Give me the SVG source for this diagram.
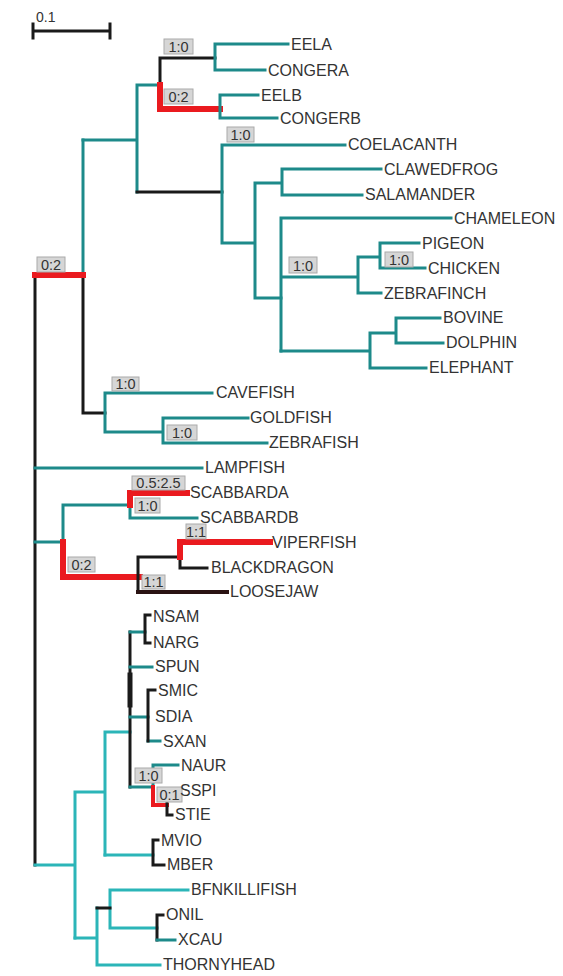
<svg xmlns="http://www.w3.org/2000/svg" width="563" height="976" viewBox="0 0 563 976">
<style>
.t{fill:none;stroke:#1d8a8a;stroke-width:3;stroke-linecap:square}
.c{fill:none;stroke:#2bb5b8;stroke-width:3;stroke-linecap:square}
.k{fill:none;stroke:#1a1a1a;stroke-width:3;stroke-linecap:square}
.r{fill:none;stroke:#ea1a1f;stroke-width:6;stroke-linecap:square}
.lab{font-family:"Liberation Sans",Arial,sans-serif;font-size:16px;fill:#333}
.bx rect{fill:#d6d6d6;stroke:#aaa;stroke-width:1}
.bx text{font-family:"Liberation Sans",Arial,sans-serif;font-size:14.5px;fill:#333;text-anchor:middle}
</style>
<rect width="563" height="976" fill="#fff"/>
<g id="scalebar">
<path class="k" d="M33,31H110M33,24V38M110,24V38"/>
<text x="36" y="22" style="font-family:'Liberation Sans',Arial,sans-serif;font-size:14px;fill:#333">0.1</text>
</g>
<g id="connectors">
<path class="k" d="M35,275V865"/>
<path class="t" d="M83,140V275"/>
<path class="k" d="M83,275V413H105"/>
<path class="r" d="M35,275H83"/>
<path class="t" d="M83,140H137M137,85V192M137,85H160"/>
<path class="k" d="M160,58V85M160,58H215M137,192H222"/>
<path class="t" d="M215,44V70M215,44H288M215,70H265"/>
<path class="r" d="M160,85V109H220"/>
<path class="t" d="M220,95V118M220,95H258M220,118H277"/>
<path class="t" d="M222,145V243M222,145H345M222,243H255M255,183V298H281M255,183H282M282,169V195M282,169H381M282,195H362"/>
<path class="t" d="M281,218V351M281,218H451M281,277H358M358,257V293M358,257H380M380,243V268M380,243H419M380,268H425M358,293H381"/>
<path class="t" d="M281,351H370M370,333V368M370,333H396M396,318V343M396,318H440M396,343H443M370,368H426"/>
<path class="t" d="M105,393V432M105,393H212M105,432H163M163,418V443M163,418H248M163,443H267"/>
<path class="t" d="M35,468H202"/>
<path class="t" d="M35,542H63M63,505V542M63,505H130M130,505V518M130,518H197"/>
<path class="r" d="M63,542V577H140M130,505V493H187"/>
<path class="k" d="M138,557V592M138,557H180M180,557V568H207"/>
<path class="r" d="M180,557V542H270"/>
<path class="k" d="M138,592H227" style="stroke:#2a1212;stroke-width:4"/>
<path class="c" d="M35,865H75M75,792V938M75,792H105M105,732V855M105,732H130"/>
<path class="k" d="M130,632V787"/>
<path class="k" d="M130,675V705" style="stroke-width:5"/>
<path class="t" d="M130,632H145M130,667H152M130,717H148M130,787H153M153,765V787M153,765H178M148,741H160"/>
<path class="k" d="M145,615V643M145,615H150M145,643H150M148,690V741M148,690H155"/>
<path class="r" d="M153,787V805H167" style="stroke-width:4"/>
<path class="k" d="M167,790V815M167,790H176M167,815H172"/>
<path class="c" d="M105,855H153"/>
<path class="k" d="M153,840V865M153,840H158M153,865H164"/>
<path class="c" d="M75,938H97M97,908V965M97,965H160M110,890V928M110,890H188M110,928H157"/>
<path class="k" d="M97,908H110M157,915V940M157,915H163"/>
<path class="t" d="M157,940H175"/>
</g>
<g id="boxes">
<g class="bx"><rect x="164" y="39" width="29" height="15"/><text x="178.5" y="52">1:0</text></g>
<g class="bx"><rect x="164" y="89" width="29" height="15"/><text x="178.5" y="102">0:2</text></g>
<g class="bx"><rect x="227" y="127" width="27" height="15"/><text x="240.5" y="140">1:0</text></g>
<g class="bx"><rect x="289" y="257" width="28" height="16"/><text x="303" y="271">1:0</text></g>
<g class="bx"><rect x="385" y="252" width="28" height="15"/><text x="399" y="265">1:0</text></g>
<g class="bx"><rect x="37" y="257" width="28" height="15"/><text x="51" y="270">0:2</text></g>
<g class="bx"><rect x="112" y="377" width="27" height="14"/><text x="125.5" y="389">1:0</text></g>
<g class="bx"><rect x="167" y="425" width="30" height="15"/><text x="182" y="438">1:0</text></g>
<g class="bx"><rect x="132" y="476" width="53" height="14"/><text x="158.5" y="488">0.5:2.5</text></g>
<g class="bx"><rect x="135" y="498" width="25" height="15"/><text x="147.5" y="511">1:0</text></g>
<g class="bx"><rect x="186" y="524" width="20" height="15"/><text x="196" y="537">1:1</text></g>
<g class="bx"><rect x="68" y="557" width="27" height="15"/><text x="81.5" y="570">0:2</text></g>
<g class="bx"><rect x="142" y="575" width="23" height="14"/><text x="153.5" y="587">1:1</text></g>
<g class="bx"><rect x="135" y="768" width="27" height="15"/><text x="148.5" y="781">1:0</text></g>
<g class="bx"><rect x="157" y="787" width="25" height="15"/><text x="169.5" y="800">0:1</text></g>
</g>
<g id="leaves">
<g id="n-eela"><text class="lab" x="291" y="50">EELA</text></g>
<g id="n-congera"><text class="lab" x="268" y="76">CONGERA</text></g>
<g id="n-eelb"><text class="lab" x="261" y="101">EELB</text></g>
<g id="n-congerb"><text class="lab" x="280" y="124">CONGERB</text></g>
<g id="n-coelacanth"><text class="lab" x="348" y="150">COELACANTH</text></g>
<g id="n-clawedfrog"><text class="lab" x="384" y="175">CLAWEDFROG</text></g>
<g id="n-salamander"><text class="lab" x="365" y="200">SALAMANDER</text></g>
<g id="n-chameleon"><text class="lab" x="454" y="224">CHAMELEON</text></g>
<g id="n-pigeon"><text class="lab" x="422" y="249">PIGEON</text></g>
<g id="n-chicken"><text class="lab" x="428" y="274">CHICKEN</text></g>
<g id="n-zebrafinch"><text class="lab" x="384" y="299">ZEBRAFINCH</text></g>
<g id="n-bovine"><text class="lab" x="443" y="323">BOVINE</text></g>
<g id="n-dolphin"><text class="lab" x="446" y="348">DOLPHIN</text></g>
<g id="n-elephant"><text class="lab" x="429" y="373">ELEPHANT</text></g>
<g id="n-cavefish"><text class="lab" x="216" y="398">CAVEFISH</text></g>
<g id="n-goldfish"><text class="lab" x="250" y="423">GOLDFISH</text></g>
<g id="n-zebrafish"><text class="lab" x="269" y="448">ZEBRAFISH</text></g>
<g id="n-lampfish"><text class="lab" x="205" y="473">LAMPFISH</text></g>
<g id="n-scabbarda"><text class="lab" x="190" y="498">SCABBARDA</text></g>
<g id="n-scabbardb"><text class="lab" x="200" y="523">SCABBARDB</text></g>
<g id="n-viperfish"><text class="lab" x="272" y="548">VIPERFISH</text></g>
<g id="n-blackdragon"><text class="lab" x="211" y="573">BLACKDRAGON</text></g>
<g id="n-loosejaw"><text class="lab" x="230" y="597">LOOSEJAW</text></g>
<g id="n-nsam"><text class="lab" x="153" y="622">NSAM</text></g>
<g id="n-narg"><text class="lab" x="153" y="648">NARG</text></g>
<g id="n-spun"><text class="lab" x="155" y="672">SPUN</text></g>
<g id="n-smic"><text class="lab" x="158" y="696">SMIC</text></g>
<g id="n-sdia"><text class="lab" x="155" y="722">SDIA</text></g>
<g id="n-sxan"><text class="lab" x="163" y="747">SXAN</text></g>
<g id="n-naur"><text class="lab" x="181" y="771">NAUR</text></g>
<g id="n-sspi"><text class="lab" x="180" y="796">SSPI</text></g>
<g id="n-stie"><text class="lab" x="175" y="820">STIE</text></g>
<g id="n-mvio"><text class="lab" x="161" y="846">MVIO</text></g>
<g id="n-mber"><text class="lab" x="167" y="870">MBER</text></g>
<g id="n-bfnkillifish"><text class="lab" x="191" y="895">BFNKILLIFISH</text></g>
<g id="n-onil"><text class="lab" x="166" y="920">ONIL</text></g>
<g id="n-xcau"><text class="lab" x="178" y="945">XCAU</text></g>
<g id="n-thornyhead"><text class="lab" x="163" y="970">THORNYHEAD</text></g>
</g>
</svg>
